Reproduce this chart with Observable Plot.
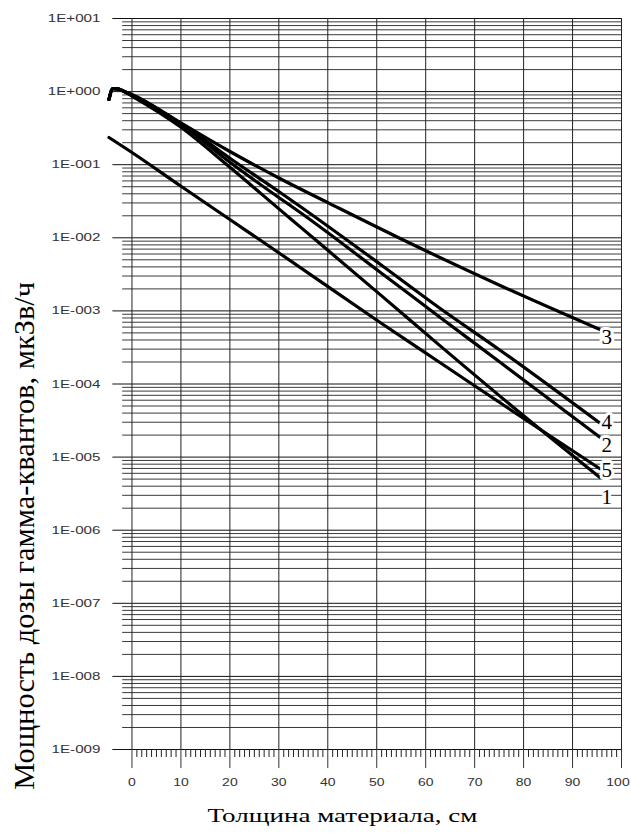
<!DOCTYPE html>
<html><head><meta charset="utf-8">
<script src="https://cdn.jsdelivr.net/npm/d3@7"></script>
<script src="https://cdn.jsdelivr.net/npm/@observablehq/plot@0.6"></script>
<style>body{margin:0;background:#fff;} #chart svg{display:block}</style>
</head><body><div id="chart"></div>
<script>
// ---- data ----
const humpX = [-4.7, -3.9, -2.9, -1.8];
const humpV = [0.78, 1.10, 1.09, 1.02];

const x3 = [...humpX, 0, 9.8, 20, 30.2, 40.4, 54.8, 75.2, 95.6];
const v3 = [...humpV, 0.913, 0.378, 0.1515, 0.0648, 0.0294, 0.00978, 0.00223, 0.000556];

const x4 = [...humpX, 0, 9.8, 20, 30.2, 34.3, 50.7, 62.9, 75.2, 95.6];
const v4 = [...humpV, 0.899, 0.378, 0.1227, 0.04205, 0.02706, 0.004355, 0.001088, 0.000290, 2.909e-5];

const x2 = [...humpX, 0, 9.8, 20, 30.2, 34.3, 50.7, 62.9, 75.2, 95.6];
const v2 = [...humpV, 0.884, 0.3661, 0.1082, 0.0348, 0.02239, 0.003384, 0.000820, 0.0001987, 1.872e-5];

const x5 = [...humpX, 0, 9.8, 20, 30.2, 34.3, 50.7, 62.9, 80.7, 95.6];
const v5 = [...humpV, 0.8706, 0.3331, 0.09213, 0.0243, 0.01423, 0.00167, 0.000335, 3.363e-5, 5.243e-6];

const x1 = [-4.7, 0, 9.8, 20, 30.2, 50.7, 62.9, 80.7, 95.6];
const v1 = [0.2355, 0.1469, 0.05193, 0.01779, 0.0061, 0.000694, 0.0001968, 3.142e-5, 6.93e-6];

const labelNames = ["3", "4", "2", "5", "1"];
const labelX = [97, 97, 97, 97, 97];
const labelV = [4.33e-4, 2.95e-5, 1.45e-5, 6.56e-6, 2.80e-6];

const xTitle = "Толщина материала, см";
const yTitle = "Мощность дозы гамма-квантов, мкЗв/ч";

const xMajorTicks = [0, 10, 20, 30, 40, 50, 60, 70, 80, 90, 100];
const yDecadeExps = [-9, -8, -7, -6, -5, -4, -3, -2, -1, 0, 1];

// ---- derived tables ----
const seriesList = [
  {name: "3", xs: x3, vs: v3},
  {name: "4", xs: x4, vs: v4},
  {name: "2", xs: x2, vs: v2},
  {name: "5", xs: x5, vs: v5},
  {name: "1", xs: x1, vs: v1}
];
const rows = seriesList.flatMap(s => s.xs.map((x, i) => ({curve: s.name, x, v: s.vs[i]})));
const labels = labelNames.map((t, i) => ({t, x: labelX[i], v: labelV[i]}));

const decades = yDecadeExps.map(e => Math.pow(10, e));
const minors = [];
for (let e = -9; e < 1; e++) for (let k = 2; k <= 9; k++) minors.push(k * Math.pow(10, e));
const xMinorTicks = d3.range(1, 100).filter(d => d % 10 !== 0);

const fmt = d => {
  const e = Math.round(Math.log10(d));
  return "1E" + (e < 0 ? "-" : "+") + String(Math.abs(e)).padStart(3, "0");
};

const plot = Plot.plot({
  width: 631, height: 840,
  marginLeft: 107, marginRight: 10, marginTop: 18, marginBottom: 91,
  x: {domain: [-5, 100], axis: null},
  y: {type: "log", domain: [1e-9, 10], axis: null},
  style: {background: "transparent", fontFamily: "Liberation Sans, Arial, sans-serif"},
  marks: [
    Plot.ruleY(minors, {x1: -1.9, x2: 100, stroke: "#3a3a3a", strokeWidth: 1}),
    Plot.ruleY(decades, {x1: -3.9, x2: 100, stroke: "#111", strokeWidth: 1}),
    Plot.ruleX(xMajorTicks, {y1: 10, y2: 1e-9, stroke: "#222", strokeWidth: 1}),
    Plot.axisX(xMinorTicks, {tickSize: 8, tickFormat: () => "", color: "#222", label: null}),
    Plot.axisX(xMajorTicks, {tickSize: 19, tickPadding: 10, fontSize: 11, color: "#333", label: null}),
    Plot.axisY(decades, {tickSize: 0, tickPadding: 7, tickFormat: fmt, fontSize: 11, color: "#333", label: null}),
    Plot.line(rows, {x: "x", y: "v", z: "curve", stroke: "#000", strokeWidth: 3.2, curve: "monotone-x", strokeLinejoin: "round", strokeLinecap: "round"}),
    Plot.text(labels, {x: "x", y: "v", text: "t", fontFamily: "Liberation Serif", fontSize: 21, fill: "#000", stroke: "#fff", strokeWidth: 6, paintOrder: "stroke"}),
    Plot.text([xTitle], {text: d => d, frameAnchor: "bottom", textAnchor: "middle", dy: 72, dx: -22, fontFamily: "Liberation Serif", fontSize: 19, fill: "#000"}),
    Plot.text([yTitle], {text: d => d, frameAnchor: "left", textAnchor: "middle", rotate: -90, dx: -83, dy: 152, fontFamily: "Liberation Serif", fontSize: 30, fill: "#000"})
  ]
});
document.getElementById("chart").append(plot);

// ---- horizontal/vertical stretch of texts (the reference glyphs are stretched) ----
const SVGNS = "http://www.w3.org/2000/svg";
function anchorOf(t) {
  let ax = 0, ay = 0;
  const tr = t.transform && t.transform.baseVal;
  if (tr && tr.numberOfItems) {
    const m = tr.consolidate().matrix;
    ax = m.e; ay = m.f;
  }
  if (t.x.baseVal.numberOfItems) ax += t.x.baseVal.getItem(0).value;
  if (t.y.baseVal.numberOfItems) ay += t.y.baseVal.getItem(0).value;
  return [ax, ay];
}
function wrapScale(t, sx, sy, shift) {
  const [ax, ay] = anchorOf(t);
  const g = document.createElementNS(SVGNS, "g");
  g.setAttribute("transform", `translate(${ax + (shift || 0)},${ay}) scale(${sx},${sy}) translate(${-ax},${-ay})`);
  t.parentNode.insertBefore(g, t);
  g.appendChild(t);
}
Array.from(plot.querySelectorAll("text")).forEach(t => {
  const s = t.textContent;
  const fs = parseFloat(getComputedStyle(t).fontSize);
  let L = 0;
  try { L = t.getComputedTextLength(); } catch (e) { L = 0; }
  if (s === xTitle) {
    wrapScale(t, L ? 270 / L : 1.43, 1);
  } else if (s === yTitle) {
    wrapScale(t, 1, L ? 508 / L : 1.25);
  } else if (/^1E[+-]\d{3}$/.test(s)) {
    wrapScale(t, 1.38, 1);
  } else if (/^\d{1,3}$/.test(s) && fs < 15) {
    wrapScale(t, 1.27, 1, s === "100" ? -3.5 : 0);
  }
});
</script>
</body></html>
